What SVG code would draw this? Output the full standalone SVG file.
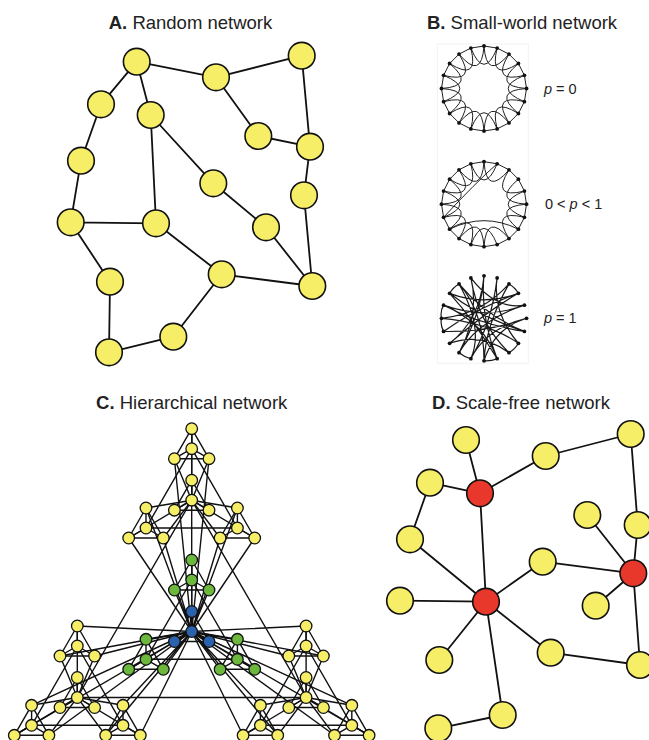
<svg xmlns="http://www.w3.org/2000/svg" width="649" height="740" viewBox="0 0 649 740">
<style>
.t{font-family:"Liberation Sans",Arial,sans-serif;font-size:18.5px;fill:#222;text-anchor:middle}
.lb{font-family:"Liberation Sans",Arial,sans-serif;font-size:14.5px;fill:#222}
.e{stroke:#111;stroke-width:1.8;fill:none}
.n{fill:#f7ee68;stroke:#111;stroke-width:1.6}
.red{fill:#e8372b}
.he{stroke:#111;stroke-width:1.4;fill:none}
.hn{fill:#f7ee68;stroke:#111;stroke-width:1.3}
.g{fill:#6cb83c}
.b{fill:#2b62ae}
.sw{stroke:#222;stroke-width:1;fill:none}
.sr{stroke:#1a1a1a;stroke-width:1.2;fill:none}
.dot{fill:#111}
</style>
<defs>
<g id="k4"><path d="M0,0V20M0,0L-17.3,30M0,0L17.3,30M0,20L-17.3,30M0,20L17.3,30M-17.3,30H17.3"/></g>
<g id="grp">
<use href="#k4"/><use href="#k4" x="0" y="51.5"/><use href="#k4" x="-45.7" y="79.3"/><use href="#k4" x="45.7" y="79.3"/>
<path d="M0,0V71.5M-17.3,30L0,71.5M17.3,30L0,71.5M-45.7,79.3L0,71.5M-63,109.3L0,71.5M-28.4,109.3L0,71.5M45.7,79.3L0,71.5M28.4,109.3L0,71.5M63,109.3L0,71.5M0,20L-45.7,99.3M0,20L45.7,99.3M-45.7,99.3H45.7"/>
</g>
<polygon id="ring" points="0,-42.5 13.13,-40.42 24.98,-34.38 34.38,-24.98 40.42,-13.13 42.5,0 40.42,13.13 34.38,24.98 24.98,34.38 13.13,40.42 0,42.5 -13.13,40.42 -24.98,34.38 -34.38,24.98 -40.42,13.13 -42.5,0 -40.42,-13.13 -34.38,-24.98 -24.98,-34.38 -13.13,-40.42"/>
<g id="dots">
<circle cx="0" cy="-42.5" r="1.9"/><circle cx="13.13" cy="-40.42" r="1.9"/><circle cx="24.98" cy="-34.38" r="1.9"/><circle cx="34.38" cy="-24.98" r="1.9"/><circle cx="40.42" cy="-13.13" r="1.9"/><circle cx="42.5" cy="0" r="1.9"/><circle cx="40.42" cy="13.13" r="1.9"/><circle cx="34.38" cy="24.98" r="1.9"/><circle cx="24.98" cy="34.38" r="1.9"/><circle cx="13.13" cy="40.42" r="1.9"/><circle cx="0" cy="42.5" r="1.9"/><circle cx="-13.13" cy="40.42" r="1.9"/><circle cx="-24.98" cy="34.38" r="1.9"/><circle cx="-34.38" cy="24.98" r="1.9"/><circle cx="-40.42" cy="13.13" r="1.9"/><circle cx="-42.5" cy="0" r="1.9"/><circle cx="-40.42" cy="-13.13" r="1.9"/><circle cx="-34.38" cy="-24.98" r="1.9"/><circle cx="-24.98" cy="-34.38" r="1.9"/><circle cx="-13.13" cy="-40.42" r="1.9"/>
</g>
</defs>
<rect width="649" height="740" fill="#fff"/>

<text class="t" x="190.5" y="29"><tspan font-weight="bold">A.</tspan> Random network</text>
<text class="t" x="522" y="29"><tspan font-weight="bold">B.</tspan> Small-world network</text>
<text class="t" x="191.7" y="409"><tspan font-weight="bold">C.</tspan> Hierarchical network</text>
<text class="t" x="521" y="409"><tspan font-weight="bold">D.</tspan> Scale-free network</text>

<!-- Panel A -->
<g id="A-connectors" class="e">
<path d="M136.7,61.7L216,77.3M216,77.3L301.7,55.7M136.7,61.7L101,104.3M136.7,61.7L150.7,115M101,104.3L81,160.7M81,160.7L70.7,222.3M216,77.3L258.3,136M258.3,136L310,146.7M301.7,55.7L310,146.7M310,146.7L304,195.3M304,195.3L312.3,286M150.7,115L156,223.3M150.7,115L213.3,183.3M213.3,183.3L266,227.3M266,227.3L312.3,286M70.7,222.3L156,223.3M70.7,222.3L110,281.7M156,223.3L221.7,274.3M221.7,274.3L312.3,286M221.7,274.3L173.3,336.7M110,281.7L109,352.3M173.3,336.7L109,352.3"/>
</g>
<g id="A1"><circle class="n" cx="136.7" cy="61.7" r="13.3"/></g>
<g id="A2"><circle class="n" cx="216" cy="77.3" r="13.3"/></g>
<g id="A3"><circle class="n" cx="301.7" cy="55.7" r="13.3"/></g>
<g id="A4"><circle class="n" cx="101" cy="104.3" r="13.3"/></g>
<g id="A5"><circle class="n" cx="150.7" cy="115" r="13.3"/></g>
<g id="A6"><circle class="n" cx="258.3" cy="136" r="13.3"/></g>
<g id="A7"><circle class="n" cx="310" cy="146.7" r="13.3"/></g>
<g id="A8"><circle class="n" cx="81" cy="160.7" r="13.3"/></g>
<g id="A9"><circle class="n" cx="213.3" cy="183.3" r="13.3"/></g>
<g id="A10"><circle class="n" cx="304" cy="195.3" r="13.3"/></g>
<g id="A11"><circle class="n" cx="70.7" cy="222.3" r="13.3"/></g>
<g id="A12"><circle class="n" cx="156" cy="223.3" r="13.3"/></g>
<g id="A13"><circle class="n" cx="266" cy="227.3" r="13.3"/></g>
<g id="A14"><circle class="n" cx="110" cy="281.7" r="13.3"/></g>
<g id="A15"><circle class="n" cx="221.7" cy="274.3" r="13.3"/></g>
<g id="A16"><circle class="n" cx="312.3" cy="286" r="13.3"/></g>
<g id="A17"><circle class="n" cx="173.3" cy="336.7" r="13.3"/></g>
<g id="A18"><circle class="n" cx="109" cy="352.3" r="13.3"/></g>

<!-- Panel B -->
<rect x="437.3" y="44" width="91" height="319.3" fill="none" stroke="#f2f2f2" stroke-width="1"/>
<g id="B1" transform="translate(484,88.5)">
<use href="#ring" class="sw"/>
<path class="sw" d="M0,-42.5Q2.47,-7.61 24.98,-34.38M13.13,-40.42Q4.7,-6.47 34.38,-24.98M24.98,-34.38Q6.47,-4.7 40.42,-13.13M34.38,-24.98Q7.61,-2.47 42.5,0M40.42,-13.13Q8,0 40.42,13.13M42.5,0Q7.61,2.47 34.38,24.98M40.42,13.13Q6.47,4.7 24.98,34.38M34.38,24.98Q4.7,6.47 13.13,40.42M24.98,34.38Q2.47,7.61 0,42.5M13.13,40.42Q0,8 -13.13,40.42M0,42.5Q-2.47,7.61 -24.98,34.38M-13.13,40.42Q-4.7,6.47 -34.38,24.98M-24.98,34.38Q-6.47,4.7 -40.42,13.13M-34.38,24.98Q-7.61,2.47 -42.5,0M-40.42,13.13Q-8,0 -40.42,-13.13M-42.5,0Q-7.61,-2.47 -34.38,-24.98M-40.42,-13.13Q-6.47,-4.7 -24.98,-34.38M-34.38,-24.98Q-4.7,-6.47 -13.13,-40.42M-24.98,-34.38Q-2.47,-7.61 0,-42.5M-13.13,-40.42Q0,-8 13.13,-40.42"/>
<use href="#dots" class="dot"/>
</g>
<g id="B2" transform="translate(484,204.2)">
<use href="#ring" class="sw"/>
<path class="sw" d="M0,-42.5Q2.47,-7.61 24.98,-34.38M24.98,-34.38Q6.47,-4.7 40.42,-13.13M34.38,-24.98Q7.61,-2.47 42.5,0M40.42,-13.13Q8,0 40.42,13.13M42.5,0Q7.61,2.47 34.38,24.98M40.42,13.13Q6.47,4.7 24.98,34.38M24.98,34.38Q2.47,7.61 0,42.5M13.13,40.42Q0,8 -13.13,40.42M0,42.5Q-2.47,7.61 -24.98,34.38M-13.13,40.42Q-4.7,6.47 -34.38,24.98M-24.98,34.38Q-6.47,4.7 -40.42,13.13M-34.38,24.98Q-7.61,2.47 -42.5,0M-40.42,13.13Q-8,0 -40.42,-13.13M-42.5,0Q-7.61,-2.47 -34.38,-24.98M-40.42,-13.13Q-6.47,-4.7 -24.98,-34.38M-34.38,-24.98Q-4.7,-6.47 -13.13,-40.42M-24.98,-34.38Q-2.47,-7.61 0,-42.5M-13.13,-40.42Q0,-8 13.13,-40.42M13.13,-40.42Q-8,-22 -40.42,13.13M34.38,24.98Q0,8 -34.38,24.98"/>
<use href="#dots" class="dot"/>
</g>
<g id="B3" transform="translate(484,318.3)">
<path class="sr" d="M0,-42.5Q-4,-2 13.13,40.42M0,-42.5Q-2,-6 -24.98,34.38M13.13,-40.42Q8,4 -13.13,40.42M13.13,-40.42Q8,-6 34.38,24.98M24.98,-34.38Q-2,-4 -42.5,0M24.98,-34.38Q2,6 0,42.5M34.38,-24.98Q4,-8 -34.38,24.98M34.38,-24.98Q0,-12 -34.38,-24.98M40.42,-13.13Q-6,2 -24.98,34.38M40.42,-13.13Q2,2 -40.42,-13.13M42.5,0Q4,14 -40.42,13.13M42.5,0Q10,10 0,42.5M40.42,13.13Q-4,6 -40.42,-13.13M40.42,13.13Q2,-2 -24.98,-34.38M34.38,24.98Q4,4 -42.5,0M24.98,34.38Q-6,4 -13.13,-40.42M24.98,34.38Q-2,14 -34.38,24.98M13.13,40.42Q-10,2 -34.38,-24.98M0,42.5Q0,-6 -24.98,-34.38M-13.13,40.42Q2,10 42.5,0M-24.98,34.38Q-4,-4 -13.13,-40.42M-34.38,24.98Q-4,2 0,-42.5M-40.42,13.13Q-8,-10 34.38,-24.98M-40.42,13.13Q-44,6 -42.5,0M-42.5,0Q-44,-7 -40.42,-13.13M-40.42,-13.13Q0,4 13.13,40.42M-34.38,-24.98Q-6,-2 40.42,13.13M-24.98,-34.38Q0,10 -13.13,40.42M-13.13,-40.42Q12,-8 40.42,-13.13M34.38,24.98Q31,31 24.98,34.38M-13.13,40.42Q-19,39 -24.98,34.38M24.98,-34.38Q31,-31 34.38,-24.98M-34.38,-24.98Q-31,-31 -24.98,-34.38M13.13,40.42Q7,43 0,42.5"/>
<use href="#dots" class="dot"/>
</g>
<text class="lb" x="544" y="94"><tspan font-style="italic">p</tspan> = 0</text>
<text class="lb" x="545" y="209">0 &lt; <tspan font-style="italic">p</tspan> &lt; 1</text>
<text class="lb" x="544" y="323"><tspan font-style="italic">p</tspan> = 1</text>

<!-- Panel C -->
<g id="C-connectors" class="he">
<use href="#grp" x="191.7" y="428.7"/>
<use href="#grp" x="191.7" y="560"/>
<use href="#grp" x="77.3" y="626"/>
<use href="#grp" x="306.1" y="626"/>
<path d="M191.7,428.7V631.5M174.4,458.7L191.7,631.5M209,458.7L191.7,631.5M146,508L191.7,631.5M128.7,538L191.7,631.5M163.3,538L191.7,631.5M237.4,508L191.7,631.5M220.1,538L191.7,631.5M254.7,538L191.7,631.5M77.3,626L191.7,631.5M60,656L191.7,631.5M94.6,656L191.7,631.5M31.6,705.3L191.7,631.5M14.3,735.3L191.7,631.5M48.9,735.3L191.7,631.5M123,705.3L191.7,631.5M105.7,735.3L191.7,631.5M140.3,735.3L191.7,631.5M306.1,626L191.7,631.5M288.8,656L191.7,631.5M323.4,656L191.7,631.5M260.4,705.3L191.7,631.5M243.1,735.3L191.7,631.5M277.7,735.3L191.7,631.5M351.8,705.3L191.7,631.5M334.5,735.3L191.7,631.5M369.1,735.3L191.7,631.5M191.7,500.2L77.3,697.5M191.7,500.2L306.1,697.5M77.3,697.5H306.1"/>
</g>
<g id="C-tt" class="hn"><circle cx="191.7" cy="428.7" r="5.8"/><circle cx="191.7" cy="448.7" r="5.8"/><circle cx="174.4" cy="458.7" r="5.8"/><circle cx="209" cy="458.7" r="5.8"/></g>
<g id="C-tc" class="hn"><circle cx="191.7" cy="480.2" r="5.8"/><circle cx="191.7" cy="500.2" r="5.8"/><circle cx="174.4" cy="510.2" r="5.8"/><circle cx="209" cy="510.2" r="5.8"/></g>
<g id="C-tl" class="hn"><circle cx="146" cy="508" r="5.8"/><circle cx="146" cy="528" r="5.8"/><circle cx="128.7" cy="538" r="5.8"/><circle cx="163.3" cy="538" r="5.8"/></g>
<g id="C-tr" class="hn"><circle cx="237.4" cy="508" r="5.8"/><circle cx="237.4" cy="528" r="5.8"/><circle cx="220.1" cy="538" r="5.8"/><circle cx="254.7" cy="538" r="5.8"/></g>
<g id="C-ct" class="hn g"><circle cx="191.7" cy="560" r="5.8"/><circle cx="191.7" cy="580" r="5.8"/><circle cx="174.4" cy="590" r="5.8"/><circle cx="209" cy="590" r="5.8"/></g>
<g id="C-cl" class="hn g"><circle cx="146" cy="639.3" r="5.8"/><circle cx="146" cy="659.3" r="5.8"/><circle cx="128.7" cy="669.3" r="5.8"/><circle cx="163.3" cy="669.3" r="5.8"/></g>
<g id="C-cr" class="hn g"><circle cx="237.4" cy="639.3" r="5.8"/><circle cx="237.4" cy="659.3" r="5.8"/><circle cx="220.1" cy="669.3" r="5.8"/><circle cx="254.7" cy="669.3" r="5.8"/></g>
<g id="C-cc" class="hn b"><circle cx="191.7" cy="611.5" r="5.8"/><circle cx="191.7" cy="631.5" r="5.8"/><circle cx="174.4" cy="641.5" r="5.8"/><circle cx="209" cy="641.5" r="5.8"/></g>
<g id="C-lt" class="hn"><circle cx="77.3" cy="626" r="5.8"/><circle cx="77.3" cy="646" r="5.8"/><circle cx="60" cy="656" r="5.8"/><circle cx="94.6" cy="656" r="5.8"/></g>
<g id="C-lc" class="hn"><circle cx="77.3" cy="677.5" r="5.8"/><circle cx="77.3" cy="697.5" r="5.8"/><circle cx="60" cy="707.5" r="5.8"/><circle cx="94.6" cy="707.5" r="5.8"/></g>
<g id="C-ll" class="hn"><circle cx="31.6" cy="705.3" r="5.8"/><circle cx="31.6" cy="725.3" r="5.8"/><circle cx="14.3" cy="735.3" r="5.8"/><circle cx="48.9" cy="735.3" r="5.8"/></g>
<g id="C-lr" class="hn"><circle cx="123" cy="705.3" r="5.8"/><circle cx="123" cy="725.3" r="5.8"/><circle cx="105.7" cy="735.3" r="5.8"/><circle cx="140.3" cy="735.3" r="5.8"/></g>
<g id="C-rt" class="hn"><circle cx="306.1" cy="626" r="5.8"/><circle cx="306.1" cy="646" r="5.8"/><circle cx="288.8" cy="656" r="5.8"/><circle cx="323.4" cy="656" r="5.8"/></g>
<g id="C-rc" class="hn"><circle cx="306.1" cy="677.5" r="5.8"/><circle cx="306.1" cy="697.5" r="5.8"/><circle cx="288.8" cy="707.5" r="5.8"/><circle cx="323.4" cy="707.5" r="5.8"/></g>
<g id="C-rl" class="hn"><circle cx="260.4" cy="705.3" r="5.8"/><circle cx="260.4" cy="725.3" r="5.8"/><circle cx="243.1" cy="735.3" r="5.8"/><circle cx="277.7" cy="735.3" r="5.8"/></g>
<g id="C-rr" class="hn"><circle cx="351.8" cy="705.3" r="5.8"/><circle cx="351.8" cy="725.3" r="5.8"/><circle cx="334.5" cy="735.3" r="5.8"/><circle cx="369.1" cy="735.3" r="5.8"/></g>

<!-- Panel D -->
<g id="D-connectors" class="e">
<path d="M466,440L480,493.3M430,482.7L480,493.3M480,493.3L545.7,456M545.7,456L630.7,434M630.7,434L637.7,525M637.7,525L633.3,573.3M587.3,515L633.3,573.3M542.7,561.7L633.3,573.3M595.7,605.7L633.3,573.3M633.3,573.3L640,665M430,482.7L410,539.3M410,539.3L486,601.7M480,493.3L486,601.7M400,600.7L486,601.7M542.7,561.7L486,601.7M486,601.7L439.3,660M486,601.7L550.7,652.7M550.7,652.7L640,665M486,601.7L502.7,715M502.7,715L438.3,728.3"/>
</g>
<g id="D1"><circle class="n" cx="466" cy="440" r="13.3"/></g>
<g id="D2"><circle class="n" cx="545.7" cy="456" r="13.3"/></g>
<g id="D3"><circle class="n" cx="630.7" cy="434" r="13.3"/></g>
<g id="D4"><circle class="n" cx="430" cy="482.7" r="13.3"/></g>
<g id="D5"><circle class="n red" cx="480" cy="493.3" r="13.3"/></g>
<g id="D6"><circle class="n" cx="410" cy="539.3" r="13.3"/></g>
<g id="D7"><circle class="n" cx="587.3" cy="515" r="13.3"/></g>
<g id="D8"><circle class="n" cx="637.7" cy="525" r="13.3"/></g>
<g id="D9"><circle class="n" cx="542.7" cy="561.7" r="13.3"/></g>
<g id="D10"><circle class="n red" cx="633.3" cy="573.3" r="13.3"/></g>
<g id="D11"><circle class="n" cx="400" cy="600.7" r="13.3"/></g>
<g id="D12"><circle class="n red" cx="486" cy="601.7" r="13.3"/></g>
<g id="D13"><circle class="n" cx="595.7" cy="605.7" r="13.3"/></g>
<g id="D14"><circle class="n" cx="550.7" cy="652.7" r="13.3"/></g>
<g id="D15"><circle class="n" cx="439.3" cy="660" r="13.3"/></g>
<g id="D16"><circle class="n" cx="640" cy="665" r="13.3"/></g>
<g id="D17"><circle class="n" cx="502.7" cy="715" r="13.3"/></g>
<g id="D18"><circle class="n" cx="438.3" cy="728.3" r="13.3"/></g>
</svg>
